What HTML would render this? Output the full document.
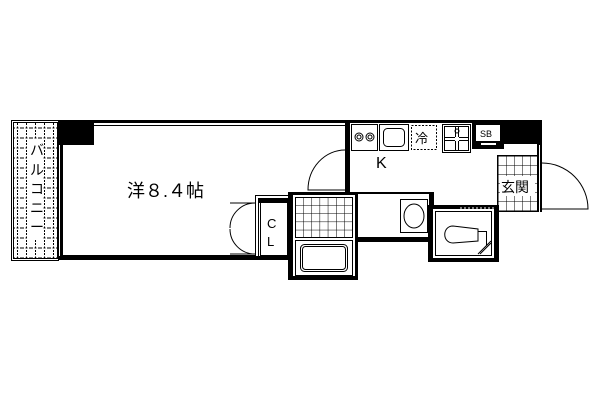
<!DOCTYPE html>
<html><head><meta charset="utf-8"><style>
html,body{margin:0;padding:0;background:#fff;}
svg{display:block}
text{font-family:"Liberation Sans","Noto Sans CJK JP",sans-serif;fill:#000}
</style></head><body>
<svg width="600" height="400" viewBox="0 0 600 400" xmlns="http://www.w3.org/2000/svg">
<defs>
<pattern id="dg" width="9" height="10" patternUnits="userSpaceOnUse" x="13" y="123">
<path d="M0 5 H9 M4.5 0 V10" stroke="#000" stroke-width="1" stroke-dasharray="2,1.5" fill="none"/>
</pattern>
<pattern id="tile" width="8.2" height="8.2" patternUnits="userSpaceOnUse" x="295" y="197">
<path d="M0 0 H8.2 M0 0 V8.2" stroke="#000" stroke-width="1" fill="none"/>
</pattern>
<pattern id="tile2" width="8" height="9" patternUnits="userSpaceOnUse" x="498" y="156">
<path d="M0 0 H8 M0 0 V9" stroke="#000" stroke-width="1" fill="none"/>
</pattern>
</defs>
<g fill="none" stroke="#000" stroke-width="1">
<rect x="11.5" y="120.5" width="47" height="140"/>
<rect x="13.5" y="122.5" width="44" height="136" fill="url(#dg)"/>
<rect x="27" y="140" width="16" height="100" fill="#fff" stroke="none"/>
</g>
<text x="30" y="155" font-size="14">バ</text>
<text x="30" y="175" font-size="14">ル</text>
<text x="30" y="194" font-size="14">コ</text>
<text x="30" y="213" font-size="14">ニ</text>
<text x="30" y="232" font-size="14">ー</text>
<rect x="58" y="120" width="35" height="25" fill="#000"/>
<rect x="93" y="120" width="254" height="3" fill="#000"/>
<line x1="93" y1="125.5" x2="347" y2="125.5" stroke="#000"/>
<line x1="93.5" y1="123" x2="93.5" y2="145" stroke="#000"/>
<rect x="58" y="145" width="4" height="115" fill="#000"/>
<line x1="62.5" y1="145" x2="62.5" y2="255" stroke="#000"/>
<line x1="59.5" y1="145" x2="59.5" y2="258" stroke="#fff"/>
<rect x="58" y="256" width="234" height="4" fill="#000"/>
<line x1="62" y1="255.5" x2="256" y2="255.5" stroke="#000"/>
<g fill="none" stroke="#000">
<rect x="255.5" y="195.5" width="34" height="62"/>
<rect x="260.5" y="200.5" width="27" height="55"/>
<line x1="258.5" y1="198" x2="258.5" y2="256"/>
<path d="M255 203 A25 25 0 0 0 230 228 M255 254 A25 25 0 0 1 230 229 M230 203 H255 M230 254 H255"/>
</g>
<rect x="258" y="198" width="30" height="5" fill="#000"/>
<text x="267" y="228" font-size="13">C</text>
<text x="267" y="246" font-size="13">L</text>
<text x="127" y="197" font-size="18">洋８.４帖</text>
<rect x="345" y="120" width="197" height="3" fill="#000"/>
<rect x="345" y="120" width="5" height="74" fill="#000"/>
<rect x="503" y="120" width="39" height="24" fill="#000"/>
<rect x="537" y="120" width="5" height="92" fill="#000"/>
<g fill="none" stroke="#000">
<path d="M345 150 A37 40 0 0 0 308 190 H345"/>
<rect x="351.5" y="124.5" width="26" height="26"/>
<circle cx="359" cy="137" r="4"/><circle cx="359" cy="137" r="2"/>
<circle cx="370" cy="137" r="4"/><circle cx="370" cy="137" r="2"/>
<rect x="379.5" y="124.5" width="29" height="26"/>
<rect x="383.5" y="128.5" width="21" height="18" rx="4"/>
<rect x="411.5" y="125.5" width="25" height="24" stroke-dasharray="2,1.5"/>
<rect x="442.5" y="124.5" width="28" height="28"/>
<rect x="444.5" y="126.5" width="24" height="24"/>
<path d="M455.5 127 V137 M458.5 127 V137 M455.5 141 V151 M458.5 141 V151 M445 137.5 H455 M445 140.5 H455 M459 137.5 H468 M459 140.5 H468"/>
<circle cx="457" cy="131" r="2"/>
<rect x="472.5" y="122.5" width="31" height="26" fill="#000"/>
<rect x="475.5" y="124.5" width="25" height="17" fill="#fff"/>
<rect x="480.5" y="142.5" width="16" height="3" fill="#fff"/>
</g>
<text x="415" y="143" font-size="13">冷</text>
<text x="480" y="137" font-size="9">SB</text>
<text x="376" y="168" font-size="16">K</text>
<rect x="497.5" y="155.5" width="40" height="56" fill="url(#tile2)" stroke="#000"/>
<rect x="500" y="176" width="35" height="20" fill="#fff"/>
<text x="501" y="192" font-size="14">玄関</text>
<path d="M542 163 A46 46 0 0 1 588 209 H542" fill="none" stroke="#000"/>
<line x1="539.5" y1="145" x2="539.5" y2="212" stroke="#fff"/>
<rect x="288" y="192" width="70" height="88" fill="#000"/>
<rect x="293" y="195" width="62" height="81" fill="#fff"/>
<rect x="295.5" y="197.5" width="57" height="40" fill="url(#tile)" stroke="#000"/>
<rect x="295.5" y="240.5" width="57" height="35" fill="none" stroke="#000"/>
<rect x="300.5" y="244.5" width="47" height="27" rx="4" fill="none" stroke="#000"/>
<rect x="302.5" y="246.5" width="43" height="23" rx="3" fill="none" stroke="#000"/>
<rect x="358" y="192" width="75" height="2" fill="#000"/>
<rect x="358" y="237" width="75" height="5" fill="#000"/>
<rect x="429" y="192" width="5" height="50" fill="#000"/>
<rect x="400.5" y="199.5" width="27" height="33" fill="none" stroke="#000"/>
<ellipse cx="414" cy="216" rx="10" ry="12" fill="none" stroke="#000"/>
<rect x="428" y="205" width="71" height="57" fill="#000"/>
<rect x="433" y="209" width="61" height="49" fill="#fff"/>
<rect x="435.5" y="211.5" width="56" height="44" fill="none" stroke="#000"/>
<path d="M453 226 C442 226 442 243 453 243 L478 241 L478 229 Z" fill="none" stroke="#000"/>
<path d="M478 231.5 H486.5 V245" fill="none" stroke="#000"/>
<path d="M478 254 L491 241 M480 254 L491 243" stroke="#000"/>
<line x1="460" y1="208" x2="494" y2="208" stroke="#fff" stroke-dasharray="2,2"/>
</svg>
</body></html>
